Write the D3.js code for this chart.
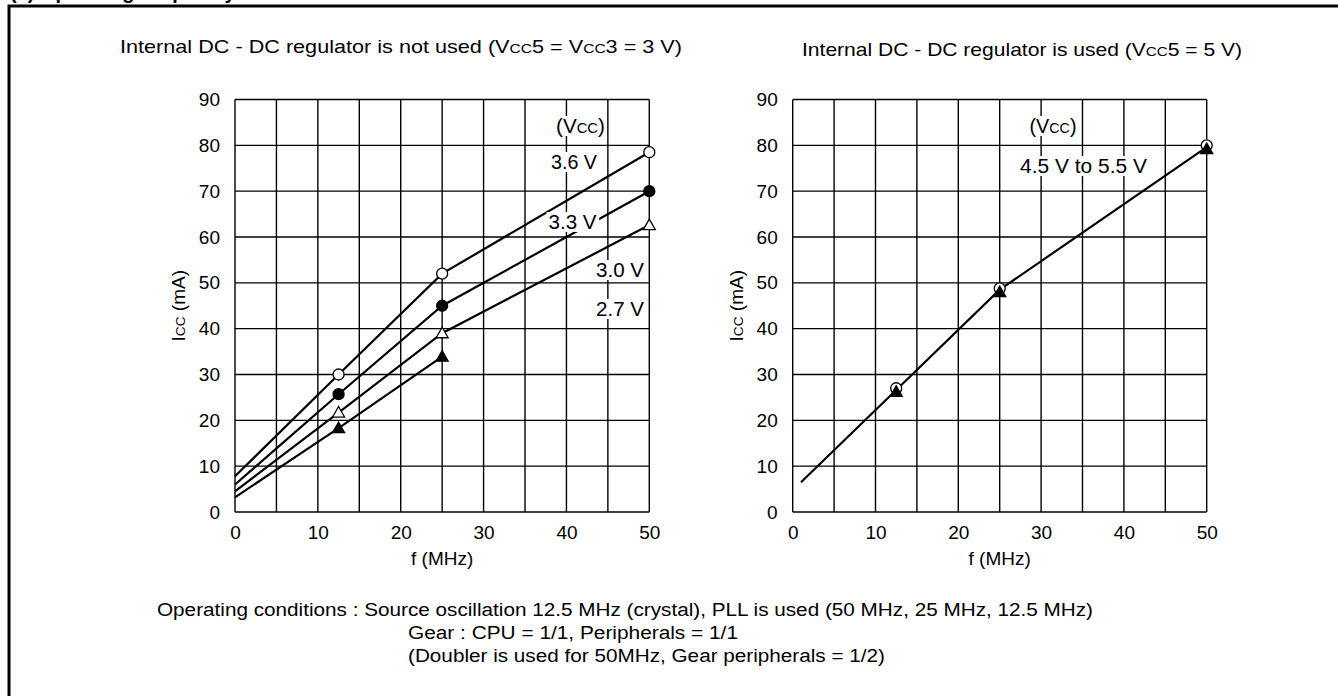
<!DOCTYPE html>
<html>
<head>
<meta charset="utf-8">
<script src="https://cdn.jsdelivr.net/npm/d3@7"></script>
<style>
  html, body { margin: 0; padding: 0; background: #fff; }
  svg { display: block; }
  text { font-family: "Liberation Sans", Arial, sans-serif; fill: #000; }
</style>
</head>
<body>
<svg id="chart" width="1338" height="696"></svg>
<script>
// ---------- data ----------
const xTickLabels = [0, 10, 20, 30, 40, 50];
const yTickLabels = [0, 10, 20, 30, 40, 50, 60, 70, 80, 90];

// left chart: regulator not used
const leftFreq = [0, 12.5, 25, 50];
const icc36 = [7.8, 30, 52, 78.5];
const icc33 = [6.0, 25.7, 45, 70];
const icc30 = [4.5, 21.7, 39, 62.6];
const freq27 = [0, 12.5, 25];
const icc27 = [3.2, 18.3, 33.9];

// right chart: regulator used
const rightFreq = [1, 12.5, 25, 50];
const iccReg = [6.5, 26.6, 48.5, 79.6];
const regMarkFreq = [12.5, 25, 50];
const regCircle = [27, 48.8, 80];
const regTriangle = [26.2, 48, 79.2];

const leftLabels = ["3.6 V", "3.3 V", "3.0 V", "2.7 V"];
const rightLabels = ["4.5 V to 5.5 V"];

// ---------- drawing ----------
const svg = d3.select("#chart");
svg.append("rect").attr("width", 1338).attr("height", 696).attr("fill", "#fff");

// cut-off section heading at top (clipped in the reference as well)
svg.append("text").attr("x", 10).attr("y", -1)
  .attr("font-size", 20).attr("font-weight", "bold")
  .text("(2) Operating frequency");

// frame
svg.append("path").attr("d", "M9,700 V6 H1340")
  .attr("fill", "none").attr("stroke", "#000").attr("stroke-width", 3);

function vccText(sel, parts) {
  parts.forEach(p => {
    sel.append("tspan").attr("font-size", p[1] ? "0.72em" : null).text(p[0]);
  });
}
function fit(t, w) {
  if (w) t.attr("textLength", w).attr("lengthAdjust", "spacingAndGlyphs");
}

function drawPanel(x0, x1, cfg) {
  const x = d3.scaleLinear().domain([0, 50]).range([x0, x1]);
  const y = d3.scaleLinear().domain([0, 90]).range([512, 99.5]);
  const g = svg.append("g");

  // grid
  const grid = g.append("g").attr("stroke", "#000").attr("stroke-width", 1.4);
  d3.range(0, 51, 5).forEach(v => grid.append("line")
    .attr("x1", x(v)).attr("x2", x(v)).attr("y1", y(0)).attr("y2", y(90)));
  d3.range(0, 91, 10).forEach(v => grid.append("line")
    .attr("x1", x(0)).attr("x2", x(50)).attr("y1", y(v)).attr("y2", y(v)));

  // axes (labels only)
  const ax = g.append("g").attr("transform", `translate(0,${y(0)})`)
    .call(d3.axisBottom(x).tickValues(xTickLabels).tickSize(0).tickPadding(14));
  const ay = g.append("g").attr("transform", `translate(${x(0)},0)`)
    .call(d3.axisLeft(y).tickValues(yTickLabels).tickSize(0).tickPadding(15));
  [ax, ay].forEach(a => {
    a.select(".domain").remove();
    a.selectAll("text").attr("font-size", 19).attr("font-family", "Liberation Sans, Arial, sans-serif");
  });

  // axis titles
  g.append("text").attr("x", (x0 + x1) / 2).attr("y", 565)
    .attr("text-anchor", "middle").attr("font-size", 19).text("f (MHz)");
  const yl = g.append("text")
    .attr("transform", `translate(${x0 - 50},${y(45)}) rotate(-90)`)
    .attr("text-anchor", "middle").attr("font-size", 19);
  vccText(yl, [["I"], ["CC", true], [" (mA)"]]);

  // title
  const t = g.append("text").attr("x", cfg.titleX).attr("y", cfg.titleY).attr("font-size", 18.5);
  vccText(t, cfg.title);
  fit(t, cfg.titleW);

  cfg.draw(g, x, y);
}

const line = (x, y) => d3.line().x(d => x(d[0])).y(d => y(d[1]));
function drawLine(g, x, y, fs, vs) {
  g.append("path").datum(d3.zip(fs, vs)).attr("d", line(x, y))
    .attr("fill", "none").attr("stroke", "#000").attr("stroke-width", 2.2);
}
function markers(g, x, y, fs, vs, type) {
  fs.forEach((f, i) => {
    const cx = x(f), cy = y(vs[i]);
    if (type === "oc" || type === "fc") {
      g.append("circle").attr("cx", cx).attr("cy", cy).attr("r", 5.5)
        .attr("fill", type === "fc" ? "#000" : "#fff").attr("stroke", "#000").attr("stroke-width", 1.3);
    } else {
      const s = 6;
      g.append("path").attr("d", `M${cx},${cy - s} L${cx + s},${cy + s * 0.75} L${cx - s},${cy + s * 0.75}Z`)
        .attr("fill", type === "ft" ? "#000" : "#fff").attr("stroke", "#000").attr("stroke-width", 1.3);
    }
  });
}
function label(g, xc, yb, parts, w) {
  const t = g.append("text").attr("x", xc).attr("y", yb).attr("text-anchor", "middle").attr("font-size", 20);
  vccText(t, parts);
  fit(t, w);
  const b = t.node().getBBox();
  g.insert("rect", function () { return t.node(); })
    .attr("x", b.x - 2).attr("y", b.y + 1).attr("width", b.width + 4).attr("height", b.height - 2).attr("fill", "#fff");
}

drawPanel(235, 649.3, {
  titleX: 120, titleY: 53, titleW: 562,
  title: [["Internal DC - DC regulator is not used (V"], ["CC", true], ["5 = V"], ["CC", true], ["3 = 3 V)"]],
  draw: (g, x, y) => {
    drawLine(g, x, y, leftFreq, icc36);
    drawLine(g, x, y, leftFreq, icc33);
    drawLine(g, x, y, leftFreq, icc30);
    drawLine(g, x, y, freq27, icc27);
    label(g, 580.5, 133, [["(V"], ["CC", true], [")"]], 49);
    label(g, 574, 169, [[leftLabels[0]]], 46);
    label(g, 572.5, 229, [[leftLabels[1]]], 48);
    label(g, 620, 277, [[leftLabels[2]]], 48);
    label(g, 620, 316, [[leftLabels[3]]], 48);
    markers(g, x, y, leftFreq.slice(1), icc36.slice(1), "oc");
    markers(g, x, y, leftFreq.slice(1), icc33.slice(1), "fc");
    markers(g, x, y, leftFreq.slice(1), icc30.slice(1), "ot");
    markers(g, x, y, freq27.slice(1), icc27.slice(1), "ft");
  }
});

drawPanel(792.7, 1206.7, {
  titleX: 802, titleY: 56, titleW: 440,
  title: [["Internal DC - DC regulator is used (V"], ["CC", true], ["5 = 5 V)"]],
  draw: (g, x, y) => {
    drawLine(g, x, y, rightFreq, iccReg);
    label(g, 1053, 133, [["(V"], ["CC", true], [")"]], 47);
    label(g, 1083.5, 173, [[rightLabels[0]]], 127);
    markers(g, x, y, regMarkFreq, regCircle, "oc");
    markers(g, x, y, regMarkFreq, regTriangle, "ft");
  }
});

// operating conditions note
const notes = [
  ["Operating conditions : Source oscillation 12.5 MHz (crystal), PLL is used (50 MHz, 25 MHz, 12.5 MHz)", 157, 616, 936],
  ["Gear : CPU = 1/1, Peripherals = 1/1", 408, 639, 330],
  ["(Doubler is used for 50MHz, Gear peripherals = 1/2)", 408, 662, 477]
];
notes.forEach(n => {
  const t = svg.append("text").attr("x", n[1]).attr("y", n[2]).attr("font-size", 18).text(n[0]);
  fit(t, n[3]);
});
</script>
</body>
</html>
